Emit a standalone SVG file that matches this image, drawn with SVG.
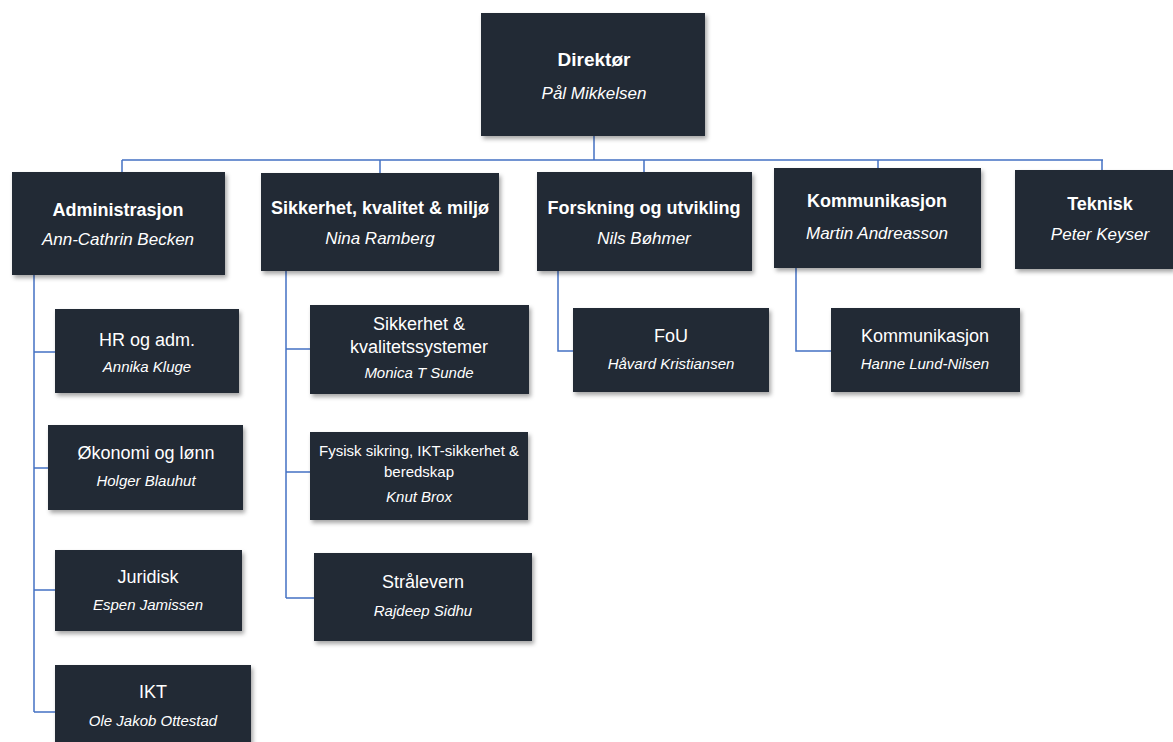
<svg xmlns="http://www.w3.org/2000/svg" width="1173" height="742" viewBox="0 0 1173 742">
<style>
.box{fill:#232a35;filter:url(#sh)}
.t{font-family:"Liberation Sans",Arial,sans-serif;fill:#ffffff;text-anchor:middle}
.b{font-weight:bold;font-size:18px}
.n{font-style:italic;font-size:17px}
.ct{font-size:18px}
.cn{font-style:italic;font-size:15px}
.sm{font-size:15px}
.ln{stroke:#4472c4;stroke-width:1.5;fill:none}
</style>
<defs>
<filter id="sh" x="-10%" y="-10%" width="125%" height="130%">
<feDropShadow dx="2" dy="3" stdDeviation="2" flood-color="#000" flood-opacity="0.35"/>
</filter>
</defs>
<rect width="1173" height="742" fill="#ffffff"/>
<g id="connectors">
<path class="ln" d="M594 136 V160 M122 160 H1103 M122 160 V172 M380 160 V173 M644 160 V172 M878 160 V168 M1102 160 V170"/>
<path class="ln" d="M34 275 V712 M34 352 H55 M34 468 H48 M34 590 H55 M34 712 H55"/>
<path class="ln" d="M286 271 V598 M286 349 H310 M286 472 H310 M286 598 H314"/>
<path class="ln" d="M558 271 V351 H573"/>
<path class="ln" d="M796 268 V351 H831"/>
</g>
<g id="direktor"><rect class="box" x="481" y="13" width="224" height="123"/>
<text class="t" x="594" y="66" style="font-weight:bold;font-size:19px">Direktør</text>
<text class="t n" x="594" y="99">Pål Mikkelsen</text></g>
<g id="administrasjon"><rect class="box" x="12" y="172" width="213" height="103"/>
<text class="t b" x="118" y="216">Administrasjon</text>
<text class="t n" x="118" y="245">Ann-Cathrin Becken</text></g>
<g id="skm"><rect class="box" x="261" y="173" width="238" height="98"/>
<text class="t b" x="380" y="214">Sikkerhet, kvalitet &amp; miljø</text>
<text class="t n" x="380" y="244">Nina Ramberg</text></g>
<g id="fou-avd"><rect class="box" x="537" y="172" width="215" height="99"/>
<text class="t b" x="644" y="214">Forskning og utvikling</text>
<text class="t n" x="644" y="244">Nils Bøhmer</text></g>
<g id="kommunikasjon-avd"><rect class="box" x="774" y="168" width="207" height="100"/>
<text class="t b" x="877" y="207">Kommunikasjon</text>
<text class="t n" x="877" y="239">Martin Andreasson</text></g>
<g id="teknisk"><rect class="box" x="1015" y="170" width="158" height="99"/>
<text class="t b" x="1100" y="210">Teknisk</text>
<text class="t n" x="1100" y="240">Peter Keyser</text></g>
<g id="hr"><rect class="box" x="55" y="309" width="184" height="84"/>
<text class="t ct" x="147" y="346">HR og adm.</text>
<text class="t cn" x="147" y="372">Annika Kluge</text></g>
<g id="okonomi"><rect class="box" x="48" y="425" width="195" height="85"/>
<text class="t ct" x="146" y="459">Økonomi og lønn</text>
<text class="t cn" x="146" y="486">Holger Blauhut</text></g>
<g id="juridisk"><rect class="box" x="55" y="550" width="187" height="81"/>
<text class="t ct" x="148" y="583">Juridisk</text>
<text class="t cn" x="148" y="610">Espen Jamissen</text></g>
<g id="ikt"><rect class="box" x="55" y="665" width="196" height="80"/>
<text class="t ct" x="153" y="698">IKT</text>
<text class="t cn" x="153" y="726">Ole Jakob Ottestad</text></g>
<g id="skq"><rect class="box" x="310" y="305" width="219" height="89"/>
<text class="t ct" x="419" y="330">Sikkerhet &amp;</text>
<text class="t ct" x="419" y="353">kvalitetssystemer</text>
<text class="t cn" x="419" y="378">Monica T Sunde</text></g>
<g id="fysisk"><rect class="box" x="310" y="432" width="218" height="88"/>
<text class="t sm" x="419" y="456">Fysisk sikring, IKT-sikkerhet &amp;</text>
<text class="t sm" x="419" y="477">beredskap</text>
<text class="t cn" x="419" y="502">Knut Brox</text></g>
<g id="stralevern"><rect class="box" x="314" y="553" width="218" height="88"/>
<text class="t ct" x="423" y="588">Strålevern</text>
<text class="t cn" x="423" y="616">Rajdeep Sidhu</text></g>
<g id="fou"><rect class="box" x="573" y="308" width="196" height="84"/>
<text class="t ct" x="671" y="342">FoU</text>
<text class="t cn" x="671" y="369">Håvard Kristiansen</text></g>
<g id="kommunikasjon"><rect class="box" x="831" y="308" width="189" height="84"/>
<text class="t ct" x="925" y="342">Kommunikasjon</text>
<text class="t cn" x="925" y="369">Hanne Lund-Nilsen</text></g>
</svg>
